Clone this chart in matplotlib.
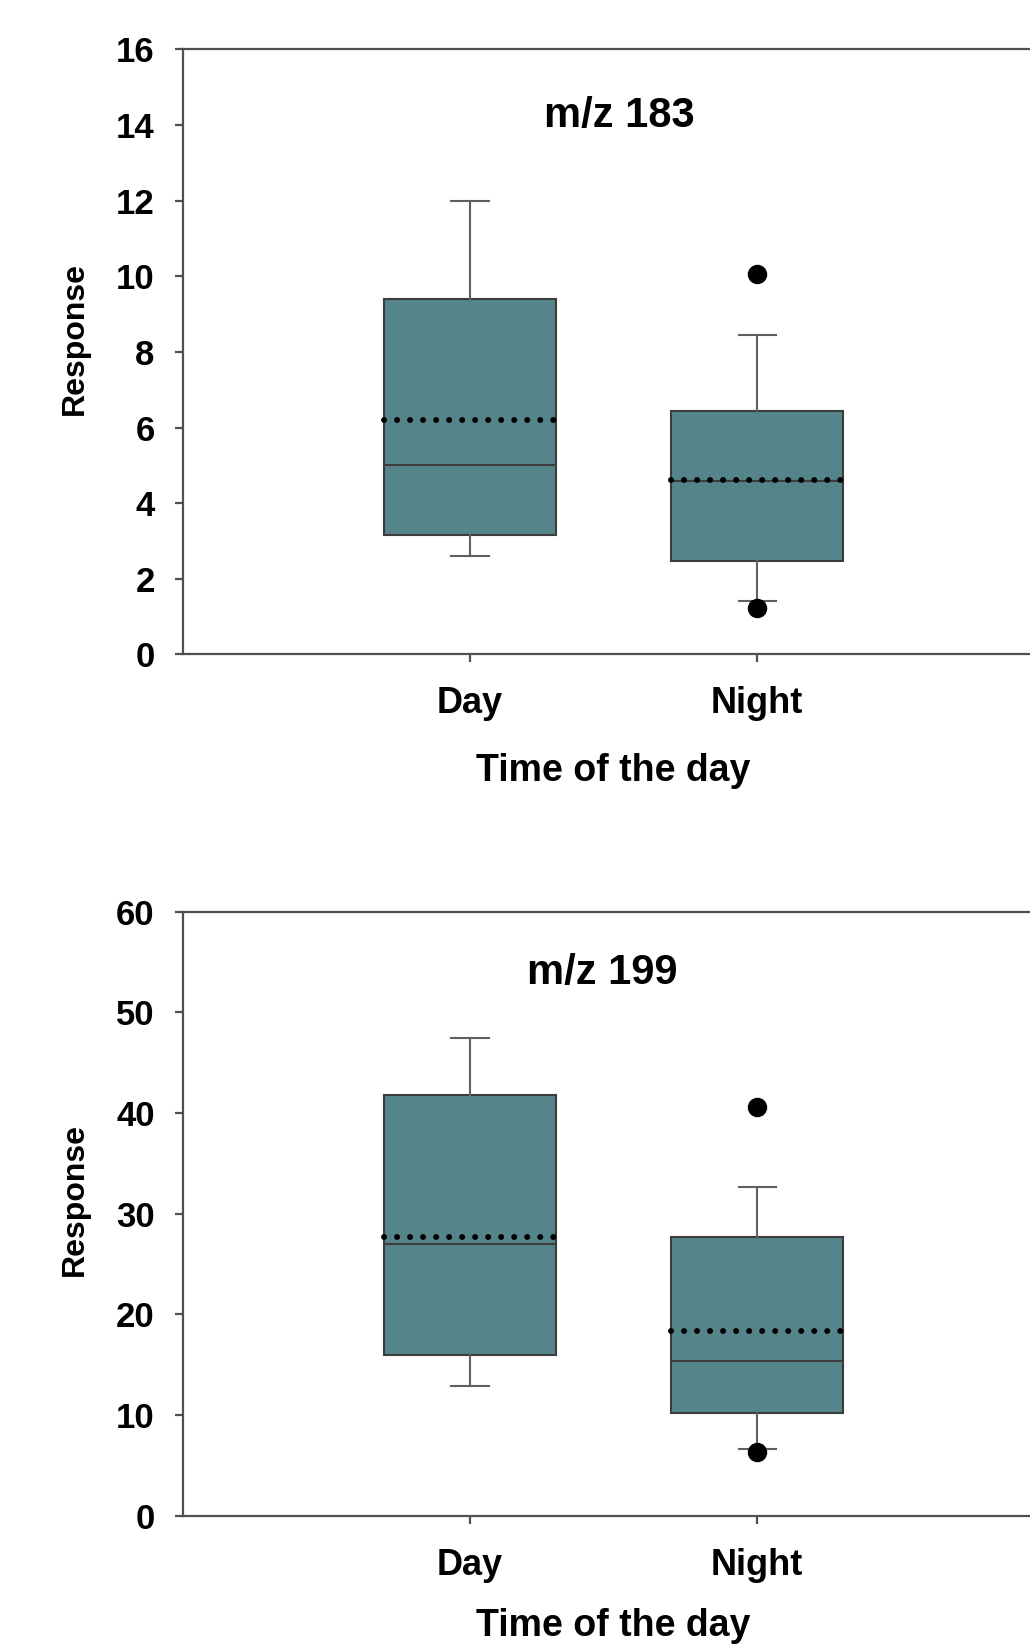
import matplotlib
matplotlib.use("Agg")
import matplotlib.pyplot as plt

plt.rcParams['font.family'] = ['Liberation Sans', 'DejaVu Sans']
plt.rcParams['font.weight'] = 'bold'

groups = ["Day", "Night"]

# m/z 183 summary values
q1_183 = [3.15, 2.47]
med_183 = [5.0, 4.6]
q3_183 = [9.4, 6.43]
lo_183 = [2.6, 1.42]
hi_183 = [12.0, 8.45]
mean_183 = [6.2, 4.62]
fliers_183 = [[], [10.05, 1.22]]

# m/z 199
q1_199 = [16.0, 10.2]
med_199 = [27.0, 15.4]
q3_199 = [41.8, 27.7]
lo_199 = [12.9, 6.6]
hi_199 = [47.5, 32.7]
mean_199 = [27.7, 18.4]
fliers_199 = [[], [40.6, 6.3]]

box_color = "#55858a"
edge = "#3c3c3c"
axis_grey = "#505050"


def make_stats(q1, med, q3, lo, hi, mean, fliers):
    stats = []
    for i, name in enumerate(groups):
        stats.append(dict(label=name, q1=q1[i], med=med[i], q3=q3[i],
                          whislo=lo[i], whishi=hi[i], mean=mean[i],
                          fliers=fliers[i]))
    return stats


def draw_panel(ax, stats, ymax, step, title, title_x, title_y, xlab_y):
    ax.bxp(stats, positions=[1, 2], widths=0.6, patch_artist=True,
           showmeans=True, meanline=True,
           boxprops=dict(facecolor=box_color, edgecolor=edge, linewidth=1.5),
           medianprops=dict(color=edge, linewidth=1.5),
           whiskerprops=dict(color="#606060", linewidth=1.5),
           capprops=dict(color="#606060", linewidth=1.5),
           capwidths=0.13,
           meanprops=dict(color="black", linewidth=4.3,
                          linestyle=(0, (0.01, 2.17)), dash_capstyle="round"),
           flierprops=dict(marker="o", markerfacecolor="black",
                           markeredgecolor="black", markersize=13))
    ax.set_xlim(0, 3)
    ax.set_ylim(0, ymax)
    ax.set_yticks(range(0, ymax + 1, step))
    ax.set_xticks([1, 2])
    ax.set_xticklabels(groups)
    for s in ax.spines.values():
        s.set_color(axis_grey)
        s.set_linewidth(1.6)
    ax.tick_params(axis="y", direction="out", length=6, width=1.6,
                   color=axis_grey, labelsize=25, pad=14)
    ax.tick_params(axis="x", direction="out", length=6, width=1.6,
                   color=axis_grey, labelsize=26, pad=17)
    ax.text(title_x, title_y, title, ha="center", va="center", fontsize=30,
            fontweight="bold")
    ax.set_xlabel("Time of the day", fontsize=27, fontweight="bold")
    ax.xaxis.set_label_coords(0.5, xlab_y)
    ax.set_ylabel("Response", fontsize=23, fontweight="bold")
    ax.yaxis.set_label_coords(-0.108, 0.523)


fig = plt.figure(figsize=(10.3, 16.44), dpi=100)
ax1 = fig.add_axes([0.1772, 0.6019, 0.837, 0.368])
ax2 = fig.add_axes([0.1772, 0.078, 0.837, 0.3674])

draw_panel(ax1, make_stats(q1_183, med_183, q3_183, lo_183, hi_183,
                           mean_183, fliers_183), 16, 2, "m/z 183", 1.52, 14.25,
           -0.163)
draw_panel(ax2, make_stats(q1_199, med_199, q3_199, lo_199, hi_199,
                           mean_199, fliers_199), 60, 10, "m/z 199", 1.46, 53.9,
           -0.152)

fig.savefig("out.png", dpi=100)
